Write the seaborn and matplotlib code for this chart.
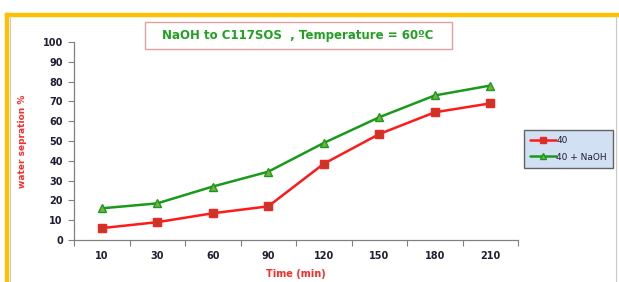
import matplotlib
matplotlib.use('Agg')
import matplotlib.pyplot as plt
import matplotlib.patches as patches
import pandas as pd
import seaborn as sns

times = ['10', '30', '60', '90', '120', '150', '180', '210']
sep_40 = [6, 9, 13.5, 17, 38.5, 53.5, 64.5, 69]
sep_40_naoh = [16, 18.5, 27, 34.5, 49, 62, 73, 78]

df = pd.DataFrame({'time': times, '40': sep_40, '40 + NaOH': sep_40_naoh})

sns.set_style('white')
plt.rcParams['font.family'] = ['DejaVu Sans']

fig = plt.figure(figsize=(6.19, 2.82), dpi=100)
ax = fig.add_axes([74 / 619, 1 - 240 / 282, 444 / 619, 198 / 282])

sns.lineplot(data=df, x='time', y='40', ax=ax, color='#ff1a1a', lw=1.8,
             marker='s', markersize=6, markerfacecolor='#c0392b',
             markeredgecolor='#ff2020', markeredgewidth=1, label='40')
sns.lineplot(data=df, x='time', y='40 + NaOH', ax=ax, color='#1a9a1a', lw=1.8,
             marker='^', markersize=6, markerfacecolor='#76b041',
             markeredgecolor='#1a9a1a', markeredgewidth=1, label='40 + NaOH')

ax.set_xlim(-0.5, len(times) - 0.5)
ax.set_ylim(0, 100)
ax.set_yticks(range(0, 101, 10))
ax.set_xticks(range(len(times)))
ax.set_xticks([i - 0.5 for i in range(len(times) + 1)], minor=True)
ax.set_xticklabels(times)
ax.tick_params(axis='x', which='major', length=0, pad=8)
ax.tick_params(axis='x', which='minor', length=4, color='#808080', width=0.8, direction='out', bottom=True)
ax.tick_params(axis='y', length=4, color='#808080', width=0.8, direction='out', left=True, pad=4)
for lab in ax.get_xticklabels() + ax.get_yticklabels():
    lab.set_fontsize(7)
    lab.set_fontweight('bold')
    lab.set_color('#1f1f33')

sns.despine(ax=ax)
for s in ['left', 'bottom']:
    ax.spines[s].set_color('#808080')
    ax.spines[s].set_linewidth(0.9)

ax.set_xlabel('Time (min)', color='#ff2a2a', fontsize=7, fontweight='bold', labelpad=6)
ax.set_ylabel('water sepration %', color='#ff2a2a', fontsize=6.5, fontweight='bold')
ax.yaxis.set_label_coords(27 / 619, 1 - 141 / 282, transform=fig.transFigure)

leg = ax.legend(loc='upper left', bbox_to_anchor=(524 / 619, 1 - 130 / 282),
                bbox_transform=fig.transFigure, frameon=True, fancybox=False,
                borderaxespad=0, fontsize=6.5, handlelength=2.8, handletextpad=0.1,
                borderpad=0.7, labelspacing=0.8, markerscale=0.75)
leg.get_frame().set_facecolor('#c6d9f1')
leg.get_frame().set_edgecolor('#404040')
leg.get_frame().set_linewidth(1)
for t in leg.get_texts():
    t.set_color('#1f1f33')

# title box
fig.patches.append(patches.Rectangle((145 / 619, 1 - 49 / 282), 307 / 619, 27 / 282,
                                     transform=fig.transFigure, fc='white', ec='#e0a0a0', lw=1))
fig.text(298 / 619, 1 - 35.5 / 282, 'NaOH to C117SOS  , Temperature = 60ºC',
         ha='center', va='center', fontsize=8.5, fontweight='bold', color='#22a022')

# outer frame
fig.patches.append(patches.Rectangle((5 / 619, 0), 3 / 619, 1 - 13 / 282, transform=fig.transFigure,
                                     color='#ffc000', zorder=0))
fig.patches.append(patches.Rectangle((5 / 619, 1 - 16 / 282), 614 / 619, 3 / 282, transform=fig.transFigure,
                                     color='#ffc000', zorder=0))
fig.lines.append(plt.Line2D([9.5 / 619, 9.5 / 619], [0, 1 - 16 / 282], transform=fig.transFigure,
                            color='#c8c8c8', lw=0.8))
fig.lines.append(plt.Line2D([616 / 619, 616 / 619], [0, 1 - 16 / 282], transform=fig.transFigure,
                            color='#c8c8c8', lw=0.8))

fig.savefig('out.png', dpi=100)
